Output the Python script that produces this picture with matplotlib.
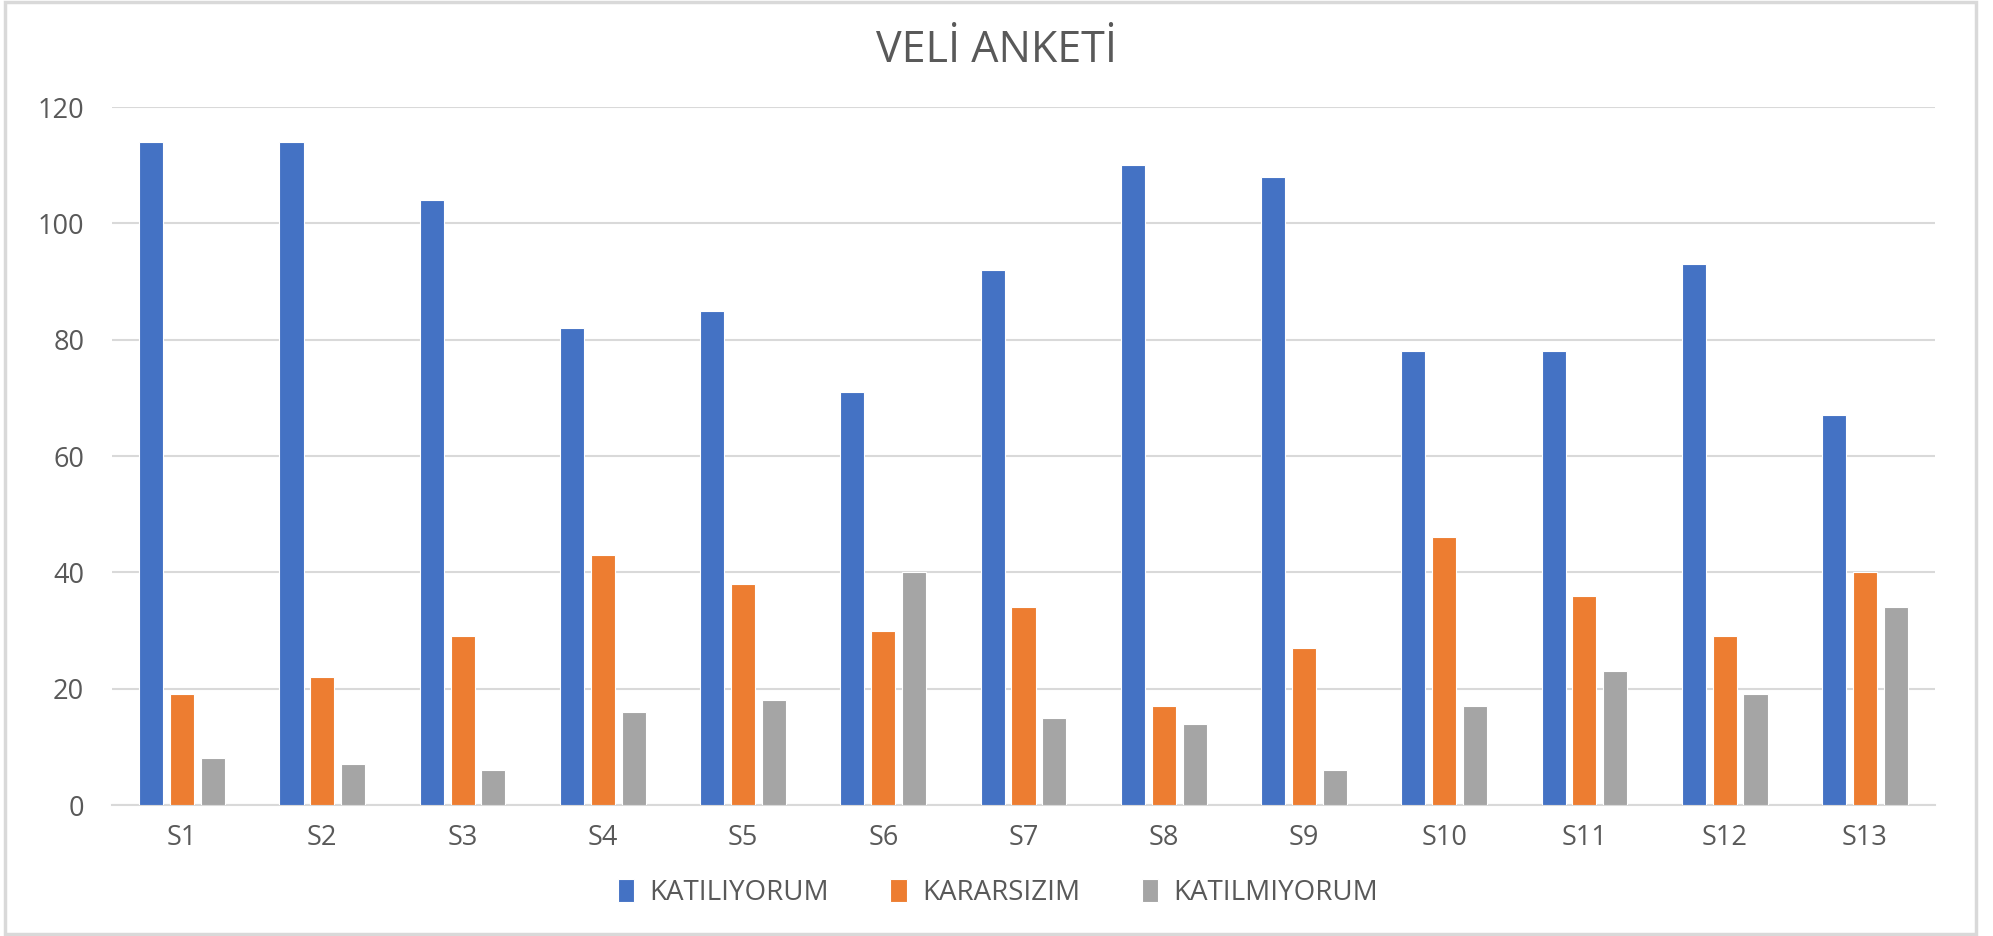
import numpy as np
import matplotlib
matplotlib.use('Agg')
import matplotlib.pyplot as plt
from matplotlib.patches import Rectangle

categories = ['S1', 'S2', 'S3', 'S4', 'S5', 'S6', 'S7', 'S8', 'S9', 'S10', 'S11', 'S12', 'S13']
katiliyorum = [114, 114, 104, 82, 85, 71, 92, 110, 108, 78, 78, 93, 67]
kararsizim = [19, 22, 29, 43, 38, 30, 34, 17, 27, 46, 36, 29, 40]
katilmiyorum = [8, 7, 6, 16, 18, 40, 15, 14, 6, 17, 23, 19, 34]
series_names = ['KATILIYORUM', 'KARARSIZIM', 'KATILMIYORUM']
colors = ['#4472C4', '#ED7D31', '#A5A5A5']

plt.rcParams['font.family'] = ['Open Sans', 'DejaVu Sans']
text_color = '#595959'
grid_color = '#D9D9D9'

fig = plt.figure(figsize=(19.93, 9.36), dpi=100)
ax = fig.add_axes([112 / 1993, 1 - 805 / 936, (1935 - 112) / 1993, (805 - 107) / 936])

x = np.arange(len(categories))
width = 0.172
step = 0.22
for i, (vals, name) in enumerate(zip([katiliyorum, kararsizim, katilmiyorum], series_names)):
    ax.bar(x + (i - 1) * step, vals, width, color=colors[i], label=name,
           edgecolor='white', linewidth=0.8, zorder=3)

ax.set_xlim(-0.5, len(categories) - 0.5)
ax.set_ylim(0, 120)
ax.set_yticks(range(0, 121, 20))
ax.set_xticks(x)
ax.set_xticklabels(categories)
ax.yaxis.grid(True, color=grid_color, linewidth=1.5, zorder=0)
ax.tick_params(axis='both', length=0, labelsize=19.5, colors=text_color)
ax.tick_params(axis='x', pad=14)
ax.tick_params(axis='y', pad=20)
for side in ['top', 'right', 'left']:
    ax.spines[side].set_visible(False)
ax.spines['bottom'].set_color(grid_color)
ax.spines['bottom'].set_linewidth(1.5)

fig.text(0.5, 1 - 51 / 936, 'VELİ ANKETİ', ha='center', va='center', fontsize=31, color=text_color)

leg = fig.legend(loc='center', bbox_to_anchor=(998 / 1993, 1 - 893 / 936), ncol=3, frameon=False,
                 fontsize=20, handlelength=0.6, handleheight=0.9, handletextpad=0.55, columnspacing=2.2)
for t in leg.get_texts():
    t.set_color(text_color)

fig.patches.append(Rectangle((5 / 1993, 2 / 936), (1976 - 5) / 1993, (934 - 2) / 936,
                             transform=fig.transFigure, fill=False, edgecolor=grid_color, linewidth=2.5))

fig.savefig('out.png', dpi=100, facecolor='white')
